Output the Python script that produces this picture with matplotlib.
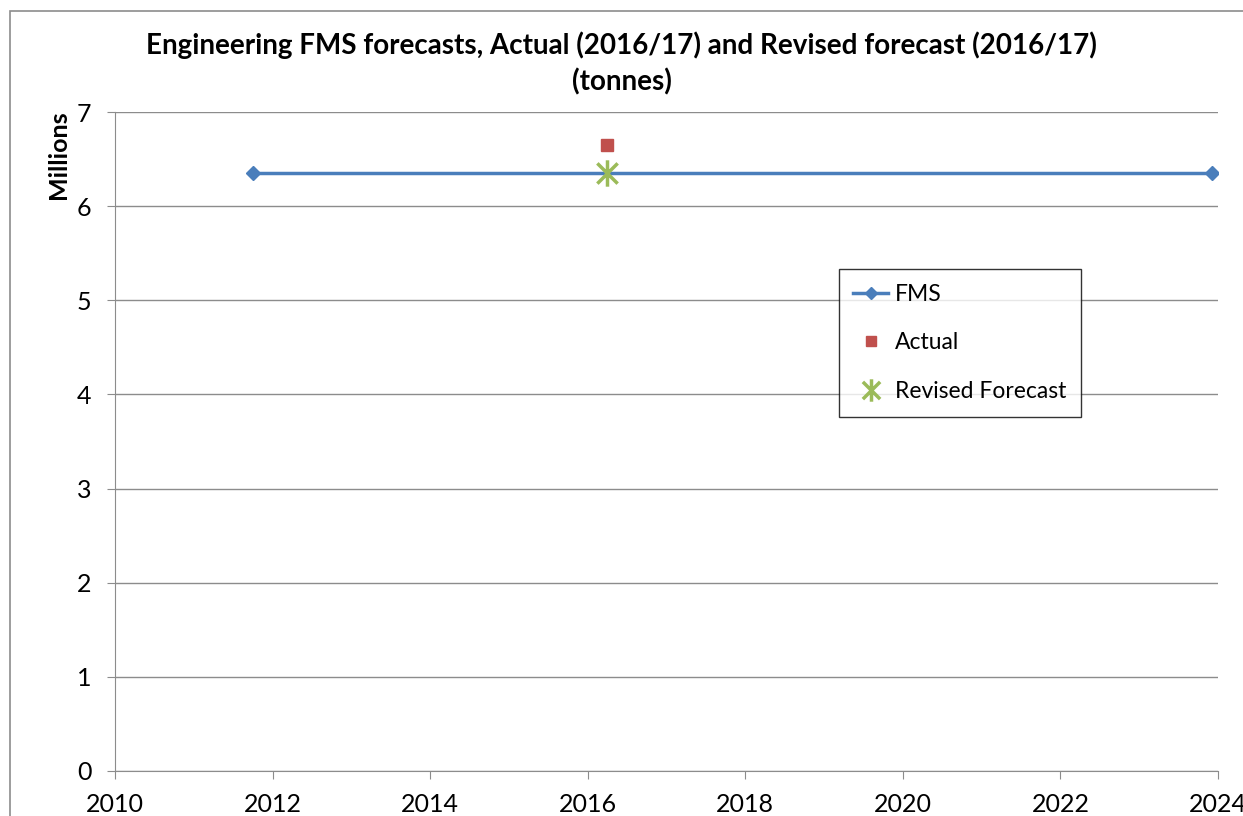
import matplotlib.pyplot as plt
from matplotlib.patches import Rectangle
from matplotlib.path import Path

plt.rcParams['font.family'] = ['Lato', 'DejaVu Sans']

# Data
fms_x = [2011.75, 2023.93]
fms_y = [6.35, 6.35]
actual_x = [2016.25]
actual_y = [6.65]
revised_x = [2016.25]
revised_y = [6.35]

# asterisk-like marker: X with a vertical stroke
star = Path([(-1, -1), (1, 1), (-1, 1), (1, -1), (0, -1.3), (0, 1.3)],
            [Path.MOVETO, Path.LINETO, Path.MOVETO, Path.LINETO, Path.MOVETO, Path.LINETO])

W, H = 1243, 816
fig = plt.figure(figsize=(W / 100, H / 100), dpi=100)
ax = fig.add_axes([115 / W, 1 - 771 / H, (1218 - 115) / W, (771 - 112) / H])

# outer chart frame (cropped at right and bottom)
fig.patches.append(Rectangle((10 / W, -0.1), 1.2, 1 - 11 / H + 0.1, transform=fig.transFigure,
                             fill=False, edgecolor='#8c8c8c', linewidth=1.2))

ax.plot(fms_x, fms_y, color='#4a7ebb', linewidth=2.5, marker='D', markersize=7, label='FMS')
ax.plot(actual_x, actual_y, linestyle='none', color='#c0504d', marker='s', markersize=9, label='Actual')
ax.plot(revised_x, revised_y, linestyle='none', color='#9bbb59', marker=star, markersize=19,
        markeredgewidth=2.5, label='Revised Forecast')

ax.set_xlim(2010, 2024)
ax.set_ylim(0, 7)
ax.set_xticks(range(2010, 2025, 2))
ax.set_yticks(range(0, 8))
ax.grid(axis='y', color='#8c8c8c', linewidth=1)
ax.set_axisbelow(True)
for s in ['top', 'right']:
    ax.spines[s].set_visible(False)
for s in ['left', 'bottom']:
    ax.spines[s].set_color('#8c8c8c')
ax.tick_params(axis='both', colors='#8c8c8c', labelcolor='black', labelsize=18, length=6, direction='out')
ax.tick_params(axis='x', pad=10)
ax.tick_params(axis='y', pad=11)
ax.set_ylabel('Millions', fontsize=18, fontweight='bold')
ax.yaxis.set_label_coords(-0.041, 0.935)

fig.text(0.5, 1 - 45 / H, 'Engineering FMS forecasts, Actual (2016/17) and Revised forecast (2016/17)',
         ha='center', va='center', fontsize=20, fontweight='bold')
fig.text(0.5, 1 - 82 / H, '(tonnes)', ha='center', va='center', fontsize=20, fontweight='bold')

leg = ax.legend(loc='upper left', bbox_to_anchor=(0.656, 0.762), borderaxespad=0, fontsize=16.5,
                frameon=True, fancybox=False, edgecolor='black', handlelength=1.5, borderpad=0.65,
                labelspacing=1.2, handletextpad=0.3, markerscale=0.85)
leg.get_frame().set_linewidth(1)

fig.savefig('out.png', dpi=100)
